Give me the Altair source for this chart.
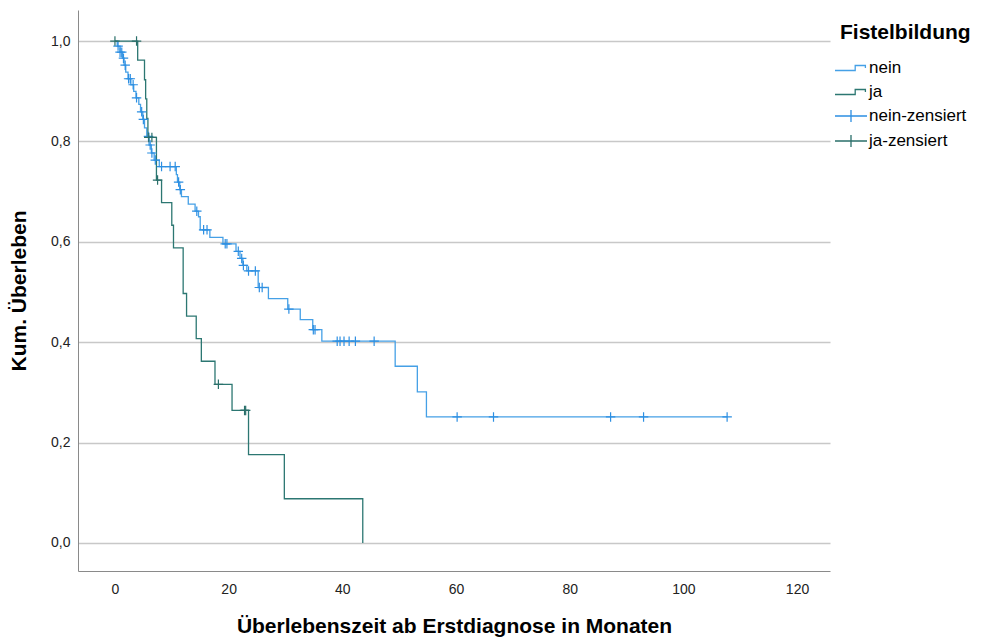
import altair as alt
import pandas as pd

# Kaplan-Meier survival by fistula formation (Fistelbildung)
groups = ["nein", "ja", "nein-zensiert", "ja-zensiert"]
colors = ["#45A0E6", "#2C7772", "#2D8FE2", "#2A6F6A"]

# "nein": event times (months) and survival after each event
nein_event_t = [0.4, 0.9, 1.3, 1.6, 1.9, 2.3, 2.8, 3.3, 3.7, 4.2, 4.5, 4.9, 5.2, 5.6,
                6.0, 6.4, 6.9, 7.8, 10.8, 11.0, 11.4, 11.7, 12.9, 14.1, 14.7, 15.0,
                16.7, 19.0, 21.3, 22.0, 22.5, 23.2, 25.2, 27.0, 30.4, 32.6, 34.8,
                36.4, 49.3, 53.2, 54.8]
nein_event_s = [0.990, 0.978, 0.966, 0.952, 0.938, 0.925, 0.913, 0.900, 0.887, 0.874,
                0.859, 0.844, 0.827, 0.810, 0.793, 0.777, 0.763, 0.750, 0.734, 0.719,
                0.704, 0.690, 0.675, 0.661, 0.650, 0.624, 0.609, 0.596, 0.581, 0.567,
                0.553, 0.542, 0.509, 0.487, 0.466, 0.445, 0.425, 0.402, 0.352, 0.301,
                0.251]
nein_censor_t = [0.55, 0.9, 1.2, 1.5, 1.8, 2.4, 2.7, 3.2, 3.8, 4.7, 5.0, 5.9, 6.2, 6.5,
                 7.1, 8.2, 9.7, 10.6, 11.2, 11.5, 14.4, 15.6, 16.2, 19.4, 19.7, 21.7,
                 22.3, 22.6, 23.5, 24.7, 25.4, 25.9, 30.6, 34.9, 35.2, 39.1, 39.6,
                 40.3, 41.2, 42.3, 45.6, 60.2, 66.6, 87.2, 93.0, 107.7]

# "ja": event times (months) and survival after each event
ja_event_t = [4.0, 5.2, 5.4, 5.6, 5.8, 7.3, 8.2, 10.0, 10.3, 12.0, 12.6, 14.3, 15.2,
              17.6, 20.6, 23.5, 29.8, 43.6]
ja_event_s = [0.962, 0.923, 0.885, 0.846, 0.808, 0.723, 0.678, 0.633, 0.588, 0.497,
              0.452, 0.407, 0.362, 0.316, 0.264, 0.176, 0.088, 0.0]
ja_censor_t = [0.0, 3.8, 5.95, 6.5, 7.5, 18.2, 22.8, 23.0]

x_ticks = [0, 20, 40, 60, 80, 100, 120]
y_ticks = [0.0, 0.2, 0.4, 0.6, 0.8, 1.0]


def surv_at(t, ev_t, ev_s):
    s = 1.0
    for et, es in zip(ev_t, ev_s):
        if et <= t:
            s = es
    return s


def step_rows(name, ev_t, ev_s, end_t=None):
    rows = [{"Gruppe": name, "t": 0.0, "s": 1.0}]
    rows += [{"Gruppe": name, "t": t, "s": s} for t, s in zip(ev_t, ev_s)]
    if end_t is not None and end_t > ev_t[-1]:
        rows.append({"Gruppe": name, "t": end_t, "s": ev_s[-1]})
    return rows


lines = pd.DataFrame(
    step_rows("nein", nein_event_t, nein_event_s, max(nein_censor_t))
    + step_rows("ja", ja_event_t, ja_event_s)
)
censored = pd.DataFrame(
    [{"Gruppe": "nein-zensiert", "t": t, "s": surv_at(t, nein_event_t, nein_event_s)}
     for t in nein_censor_t]
    + [{"Gruppe": "ja-zensiert", "t": t, "s": surv_at(t, ja_event_t, ja_event_s)}
       for t in ja_censor_t]
)

FONT = "Liberation Sans"
label_de = "replace(format(datum.value, '.1f'), '.', ',')"

x_enc = alt.X(
    "t:Q",
    scale=alt.Scale(domain=[-6.5, 125.8], nice=False, zero=False),
    axis=alt.Axis(values=x_ticks, title="Überlebenszeit ab Erstdiagnose in Monaten",
                  grid=False, ticks=False, labelPadding=11, titlePadding=19),
)
y_enc = alt.Y(
    "s:Q",
    scale=alt.Scale(domain=[-0.056, 1.062], nice=False, zero=False),
    axis=alt.Axis(values=y_ticks, labelExpr=label_de, title="Kum. Überleben",
                  grid=True, ticks=False, labelPadding=8, titlePadding=21),
)

# legend glyphs: a small step for the curves, a long cross for censored cases
step_shape = "M-1.6,0.25H0.42V-0.25H1.44V0"
plus_shape = "M-1.6,0H1.6M0,-0.6V0.6"

legend = alt.Legend(
    title="Fistelbildung",
    orient="none",
    legendX=762,
    legendY=12,
    symbolSize=400,
    symbolStrokeWidth=1.3,
    symbolOpacity=1,
    symbolFillColor="transparent",
    labelOffset=7,
    rowPadding=5,
    titlePadding=14,
)
color_enc = alt.Color("Gruppe:N", scale=alt.Scale(domain=groups, range=colors), legend=legend)

curve = alt.Chart(lines).mark_line(interpolate="step-after", strokeWidth=1.3).encode(
    x=x_enc, y=y_enc, color=color_enc, detail="Gruppe:N", order="t:Q"
)

ticks = alt.Chart(censored).mark_point(filled=False, strokeWidth=1.2, opacity=1).encode(
    x="t:Q",
    y="s:Q",
    color=alt.Color("Gruppe:N"),
    shape=alt.value("M-1,0H1M0,-1V1"),
    size=alt.value(90),
)

# invisible copy of the censored cases that carries the legend glyphs
legend_keys = alt.Chart(censored).mark_point(filled=False).encode(
    x="t:Q",
    y="s:Q",
    color=alt.Color("Gruppe:N"),
    shape=alt.Shape(
        "Gruppe:N",
        scale=alt.Scale(domain=groups, range=[step_shape, step_shape, plus_shape, plus_shape]),
        legend=legend,
    ),
    opacity=alt.value(0),
)

chart = (
    alt.layer(curve, ticks, legend_keys)
    .properties(
        width=752,
        height=561,
        autosize="none",
        padding={"left": 78, "top": 10, "right": 159, "bottom": 66},
        background="white",
    )
    .configure_view(stroke=None)
    .configure_axis(
        labelFont=FONT,
        titleFont=FONT,
        labelFontSize=14,
        labelColor="#222222",
        titleFontSize=21,
        titleFontWeight="bold",
        titleColor="#000000",
        domainColor="#8a8a8a",
        domainWidth=1,
        gridColor="#c8c8c8",
        gridWidth=1.3,
    )
    .configure_legend(
        titleFont=FONT,
        labelFont=FONT,
        titleFontSize=21,
        titleFontWeight="bold",
        titleColor="#000000",
        labelFontSize=17,
        labelColor="#000000",
        padding=0,
    )
)

chart.save("out.html", embed_options={"renderer": "svg", "actions": False})
